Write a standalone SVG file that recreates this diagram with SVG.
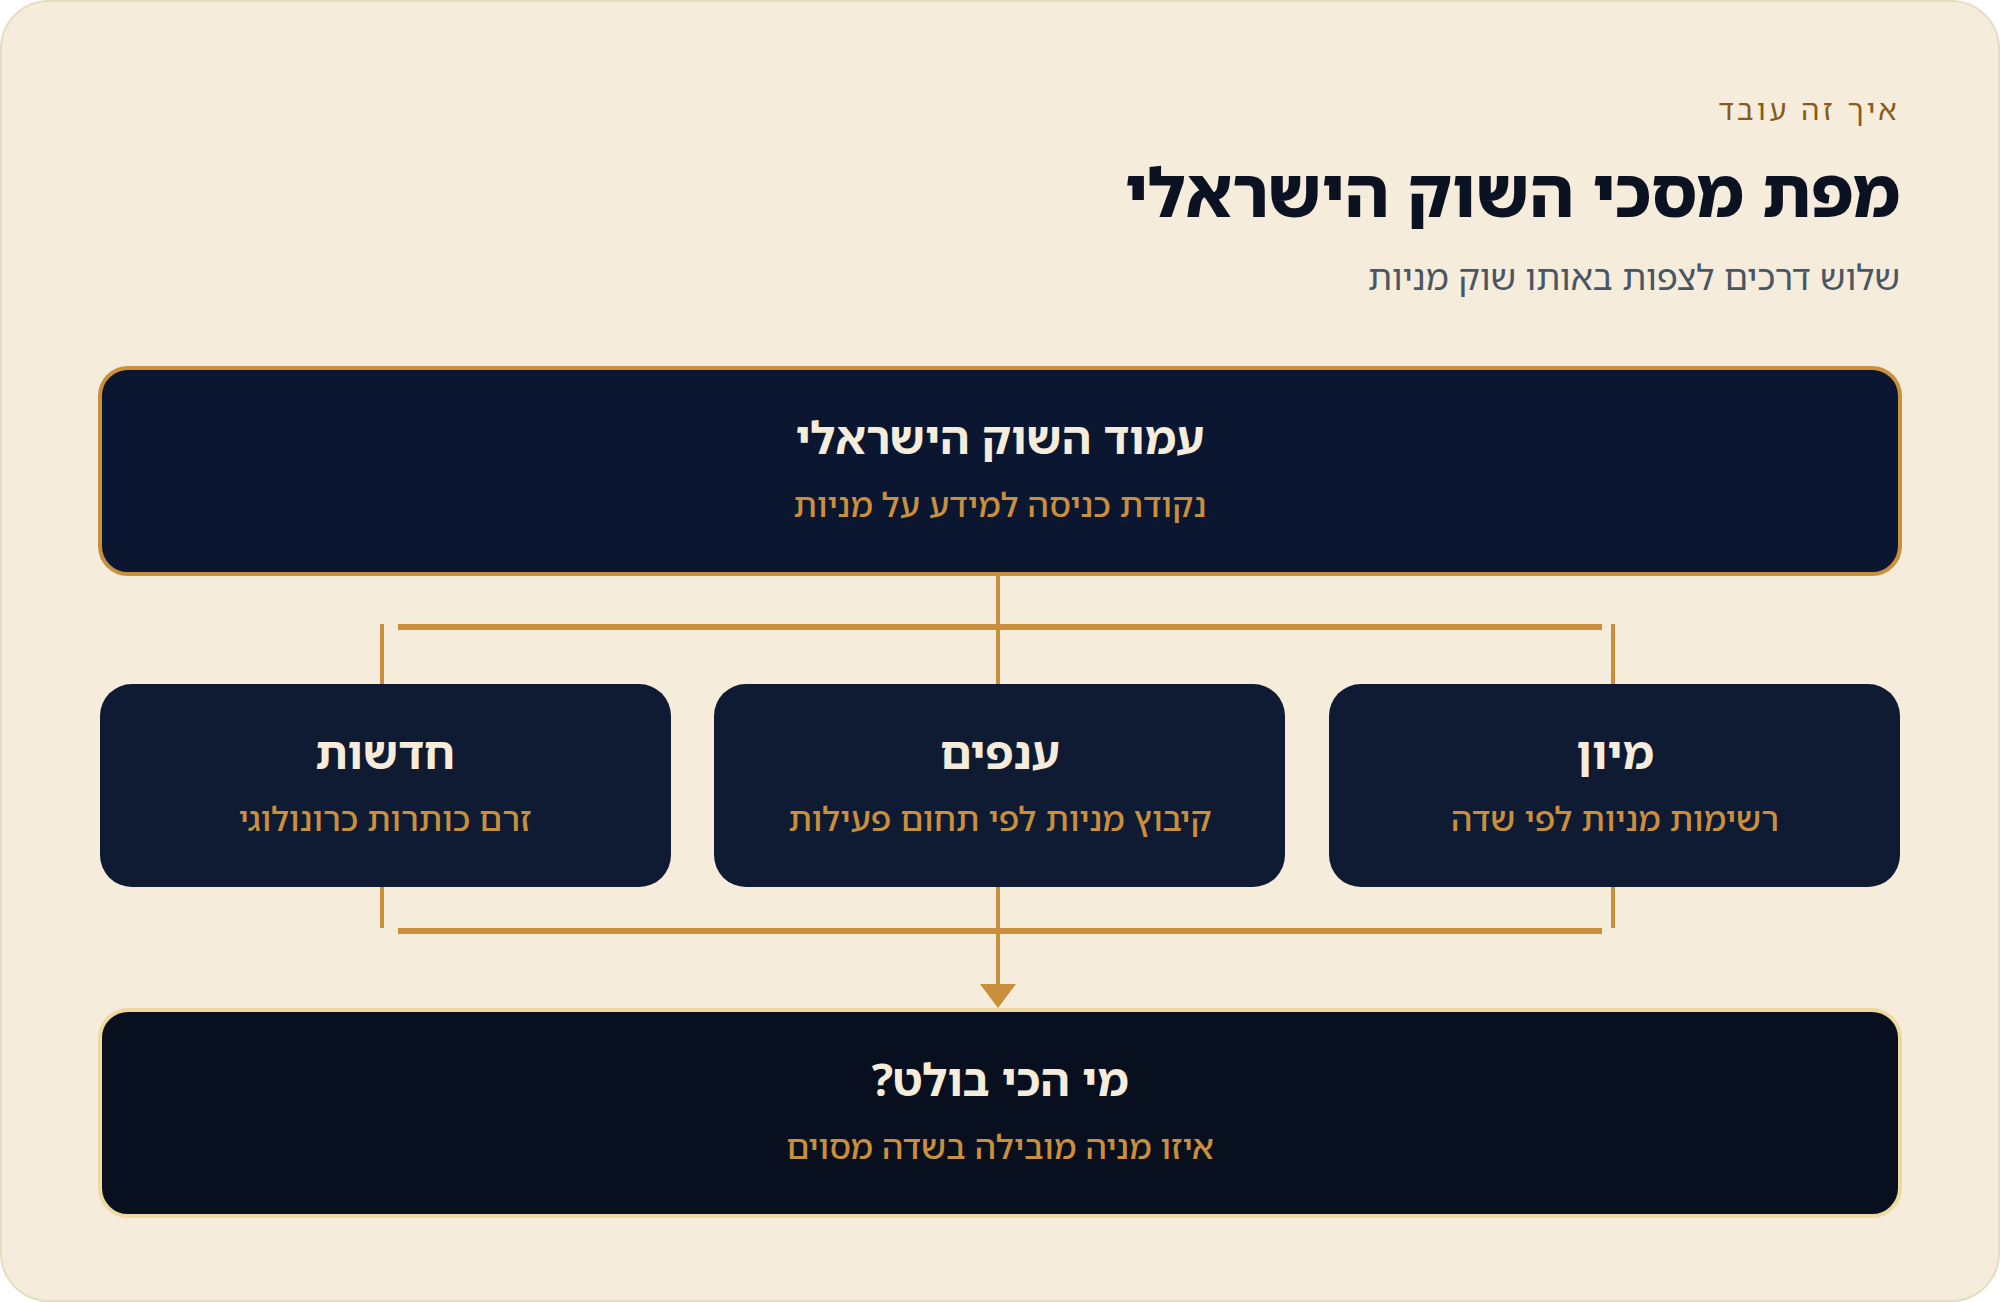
<svg xmlns="http://www.w3.org/2000/svg" width="2000" height="1302" viewBox="0 0 2000 1302">
<style>
text{font-family:"Noto Sans Hebrew","Noto Sans","DejaVu Sans",sans-serif}
.eyebrow{font-size:29px;fill:#8a5a1a;letter-spacing:3.5px}
.h1{font-size:67px;font-weight:800;fill:#0b1222}
.sub{font-size:35px;fill:#4b5563}
.nt{font-size:45px;font-weight:700;fill:#f5ecdc;text-anchor:middle}
.ns{font-size:33.5px;font-weight:500;fill:#c98f3c;text-anchor:middle}
.vl{stroke:#c98f3c;stroke-width:4;fill:none}
.hb{stroke:#c98f3c;stroke-width:6;fill:none}
</style>
<rect x="1" y="1" width="1998" height="1300" rx="48" fill="#f5ecdc" stroke="#e6dcc0" stroke-width="2"/>
<g id="header">
<text class="eyebrow" x="1900" y="120" text-anchor="end">איך זה עובד</text>
<text class="h1" x="1900" y="217" text-anchor="end">מפת מסכי השוק הישראלי</text>
<text class="sub" x="1900" y="290" text-anchor="end">שלוש דרכים לצפות באותו שוק מניות</text>
</g>
<g id="connectors">
<line class="vl" x1="998" y1="576" x2="998" y2="684"/>
<line class="hb" x1="398" y1="627" x2="1602" y2="627"/>
<line class="vl" x1="382" y1="624" x2="382" y2="684"/>
<line class="vl" x1="1613" y1="624" x2="1613" y2="684"/>
<line class="vl" x1="382" y1="887" x2="382" y2="928"/>
<line class="vl" x1="1613" y1="887" x2="1613" y2="928"/>
<line class="hb" x1="398" y1="931" x2="1602" y2="931"/>
<line class="vl" x1="998" y1="887" x2="998" y2="990"/>
<polygon points="980,984 1016,984 998,1008" fill="#c98f3c"/>
</g>
<g id="node-top">
<rect x="100" y="368" width="1800" height="206" rx="28" fill="#0b1730" stroke="#c98f3c" stroke-width="4"/>
<text class="nt" x="1000" y="454" direction="rtl">עמוד השוק הישראלי</text>
<text class="ns" x="1000" y="517" direction="rtl">נקודת כניסה למידע על מניות</text>
</g>
<g id="node-news">
<rect x="100" y="684" width="571" height="203" rx="32" fill="#0f1b33"/>
<text class="nt" x="385" y="769" direction="rtl">חדשות</text>
<text class="ns" x="385" y="831" direction="rtl">זרם כותרות כרונולוגי</text>
</g>
<g id="node-sectors">
<rect x="714" y="684" width="571" height="203" rx="32" fill="#0f1b33"/>
<text class="nt" x="1000" y="769" direction="rtl">ענפים</text>
<text class="ns" x="1000" y="831" direction="rtl">קיבוץ מניות לפי תחום פעילות</text>
</g>
<g id="node-sort">
<rect x="1329" y="684" width="571" height="203" rx="32" fill="#0f1b33"/>
<text class="nt" x="1615" y="769" direction="rtl">מיון</text>
<text class="ns" x="1615" y="831" direction="rtl">רשימות מניות לפי שדה</text>
</g>
<g id="node-bottom">
<rect x="100" y="1010" width="1800" height="206" rx="28" fill="#080f1e" stroke="#f0d9a0" stroke-width="4"/>
<text class="nt" x="1000" y="1096" direction="rtl">מי הכי בולט?</text>
<text class="ns" x="1000" y="1159" direction="rtl">איזו מניה מובילה בשדה מסוים</text>
</g>
</svg>
